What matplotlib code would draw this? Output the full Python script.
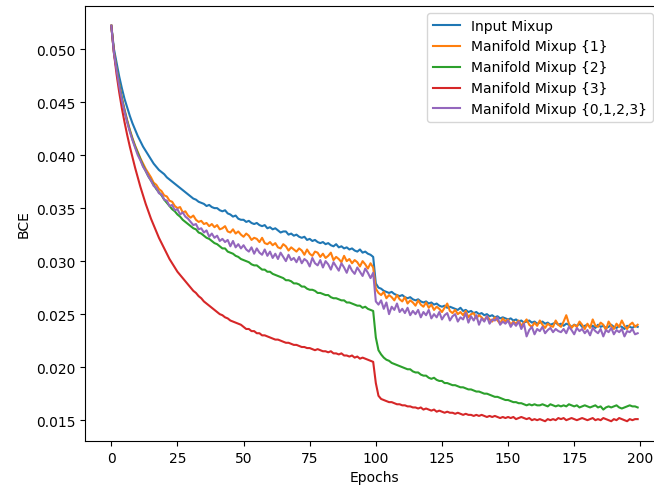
import numpy as np
import matplotlib.pyplot as plt

# BCE per epoch, in units of 1e-4
input_mixup = [
    522, 500, 487, 474, 463, 453, 445, 437, 430, 424,
    418, 413, 408, 404, 400, 396, 392, 389, 386, 384,
    382, 379, 377, 375, 373, 371, 369, 367, 365, 363,
    361, 359, 358, 356, 355, 354, 352, 353, 351, 350,
    350, 348, 347, 348, 345, 344, 342, 343, 340, 339,
    339, 337, 338, 336, 335, 336, 334, 333, 334, 331,
    332, 330, 331, 329, 327, 328, 328, 325, 326, 324,
    325, 323, 322, 323, 320, 321, 319, 320, 318, 317,
    318, 316, 317, 315, 314, 316, 313, 314, 312, 313,
    311, 312, 310, 309, 311, 308, 309, 307, 306, 304,
    279, 275, 274, 272, 271, 270, 271, 269, 268, 267,
    268, 266, 265, 266, 264, 263, 264, 262, 261, 262,
    260, 261, 259, 260, 258, 257, 258, 256, 257, 256,
    255, 254, 256, 253, 254, 252, 253, 251, 252, 250,
    251, 249, 250, 248, 249, 247, 248, 246, 247, 246,
    245, 246, 244, 245, 243, 244, 242, 243, 244, 242,
    243, 241, 242, 243, 241, 242, 240, 241, 242, 240,
    241, 239, 241, 240, 238, 240, 239, 241, 238, 239,
    240, 238, 239, 237, 240, 238, 239, 237, 238, 240,
    238, 237, 239, 238, 236, 239, 238, 237, 239, 238,
]

manifold_1 = [
    522, 497, 481, 467, 454, 443, 433, 424, 416, 409,
    403, 397, 392, 387, 383, 379, 374, 372, 368, 366,
    362, 361, 357, 356, 352, 350, 351, 346, 347, 343,
    341, 343, 339, 337, 338, 335, 336, 333, 335, 332,
    334, 330, 331, 333, 328, 327, 330, 326, 328, 325,
    323, 326, 324, 320, 322, 321, 318, 322, 317, 316,
    318, 315, 317, 313, 312, 316, 314, 310, 313, 311,
    309, 312, 310, 306, 311, 307, 305, 309, 308, 304,
    307, 303, 305, 308, 301, 304, 302, 299, 305, 300,
    302, 298, 301, 299, 295, 300, 297, 293, 298, 294,
    274, 270, 268, 271, 265, 268, 266, 263, 268, 264,
    262, 266, 260, 263, 261, 258, 263, 259, 257, 261,
    256, 259, 254, 257, 255, 252, 256, 260, 253, 251,
    254, 250, 252, 249, 253, 247, 250, 251, 246, 249,
    247, 244, 248, 245, 243, 247, 244, 241, 246, 243,
    245, 240, 243, 241, 244, 239, 242, 245, 240, 238,
    242, 239, 244, 240, 237, 241, 239, 238, 244, 240,
    238, 243, 249, 241, 237, 240, 238, 243, 240, 236,
    241, 237, 245, 239, 238, 242, 240, 235, 243, 239,
    236, 241, 238, 244, 239, 236, 240, 242, 238, 240,
]

manifold_2 = [
    522, 497, 481, 466, 453, 442, 432, 423, 415, 408,
    402, 396, 390, 385, 380, 376, 372, 368, 365, 362,
    358, 355, 352, 349, 347, 344, 342, 339, 337, 335,
    333, 331, 330, 327, 326, 324, 322, 321, 319, 317,
    316, 314, 312, 312, 309, 308, 307, 305, 304, 302,
    301, 300, 299, 297, 296, 296, 294, 292, 292, 290,
    290, 288, 287, 286, 285, 284, 282, 282, 281, 279,
    279, 278, 276, 276, 274, 273, 273, 272, 270, 270,
    269, 268, 268, 266, 265, 265, 264, 263, 263, 261,
    261, 260, 259, 258, 258, 256, 257, 255, 254, 253,
    228, 216, 212, 209, 207, 206, 204, 203, 202, 201,
    200, 199, 198, 198, 196, 195, 195, 193, 192, 192,
    190, 189, 190, 188, 187, 187, 185, 185, 184, 183,
    183, 182, 181, 181, 180, 179, 179, 178, 177, 177,
    176, 175, 175, 174, 173, 172, 172, 171, 170, 169,
    169, 168, 167, 167, 166, 166, 165, 164, 165, 164,
    165, 164, 164, 165, 164, 163, 165, 164, 163, 164,
    163, 164, 163, 165, 164, 163, 164, 162, 163, 164,
    163, 162, 163, 164, 162, 163, 160, 162, 163, 162,
    163, 164, 162, 161, 162, 163, 164, 163, 163, 162,
]

manifold_3 = [
    522, 496, 476, 459, 444, 431, 419, 408, 398, 388,
    379, 370, 362, 354, 347, 340, 334, 328, 322, 317,
    312, 307, 302, 298, 294, 290, 287, 284, 281, 278,
    275, 272, 270, 267, 265, 262, 260, 258, 256, 254,
    252, 250, 249, 247, 246, 244, 243, 242, 241, 240,
    238, 236, 236, 234, 234, 232, 232, 230, 230, 229,
    228, 227, 226, 226, 225, 224, 223, 223, 222, 221,
    221, 220, 219, 219, 218, 218, 217, 216, 217, 216,
    215, 215, 214, 215, 213, 213, 212, 213, 211, 211,
    210, 211, 209, 210, 208, 209, 208, 207, 206, 205,
    185, 173, 170, 169, 168, 167, 167, 166, 165, 165,
    164, 164, 163, 163, 162, 162, 161, 162, 160, 161,
    160, 159, 160, 158, 159, 158, 157, 158, 157, 157,
    156, 157, 156, 155, 156, 155, 155, 154, 155, 154,
    155, 154, 153, 154, 153, 154, 153, 152, 153, 152,
    153, 152, 153, 151, 152, 153, 152, 151, 152, 150,
    151, 150, 151, 150, 149, 151, 150, 151, 150, 152,
    151, 152, 150, 151, 152, 151, 150, 151, 152, 151,
    150, 151, 152, 150, 151, 150, 152, 151, 150, 149,
    151, 150, 152, 151, 150, 149, 151, 150, 151, 151,
]

manifold_0123 = [
    522, 496, 480, 465, 452, 441, 431, 422, 414, 407,
    400, 395, 389, 385, 380, 376, 371, 369, 364, 363,
    358, 357, 352, 353, 348, 349, 344, 346, 342, 340,
    337, 334, 335, 330, 331, 327, 329, 323, 326, 322,
    324, 319, 321, 318, 320, 314, 319, 313, 316, 312,
    315, 311, 309, 313, 307, 312, 308, 306, 311, 305,
    309, 303, 307, 302, 308, 304, 300, 306, 301, 303,
    299, 304, 298, 302, 300, 295, 303, 298, 296, 301,
    294, 300, 297, 292, 299, 295, 291, 298, 294, 289,
    296, 291, 288, 294, 290, 286, 293, 289, 284, 289,
    262, 259, 263, 255, 261, 250, 257, 254, 260, 252,
    255, 251, 256, 249, 253, 250, 254, 247, 252, 249,
    254, 246, 250, 247, 252, 245, 249, 251, 244, 248,
    250, 243, 247, 245, 251, 242, 248, 244, 249, 240,
    246, 243, 248, 241, 245, 244, 247, 240, 243, 241,
    244, 238, 242, 239, 243, 236, 241, 229, 235, 238,
    231, 236, 234, 238, 232, 235, 237, 233, 236, 234,
    233, 236, 232, 238, 235, 231, 237, 234, 236, 232,
    235, 230, 237, 234, 232, 236, 229, 235, 233, 237,
    231, 235, 233, 236, 229, 234, 233, 236, 231, 232,
]

labels = ['Input Mixup', 'Manifold Mixup {1}', 'Manifold Mixup {2}',
          'Manifold Mixup {3}', 'Manifold Mixup {0,1,2,3}']
series = [input_mixup, manifold_1, manifold_2, manifold_3, manifold_0123]

fig = plt.figure(figsize=(6.54, 4.89), dpi=100)
ax = fig.add_axes([85 / 654, 1 - 442 / 489, 579 / 654, 435 / 489])

for vals, lab in zip(series, labels):
    epochs = np.arange(len(vals))
    ax.plot(epochs, np.array(vals) / 1e4, label=lab)

ax.set_xticks([0, 25, 50, 75, 100, 125, 150, 175, 200])
ax.set_xlabel('Epochs')
ax.set_ylabel('BCE')
ax.legend(loc='upper right', bbox_to_anchor=(653 / 654, 1 - 14 / 489),
          bbox_transform=fig.transFigure, borderaxespad=0)

fig.savefig('out.png', dpi=100)
